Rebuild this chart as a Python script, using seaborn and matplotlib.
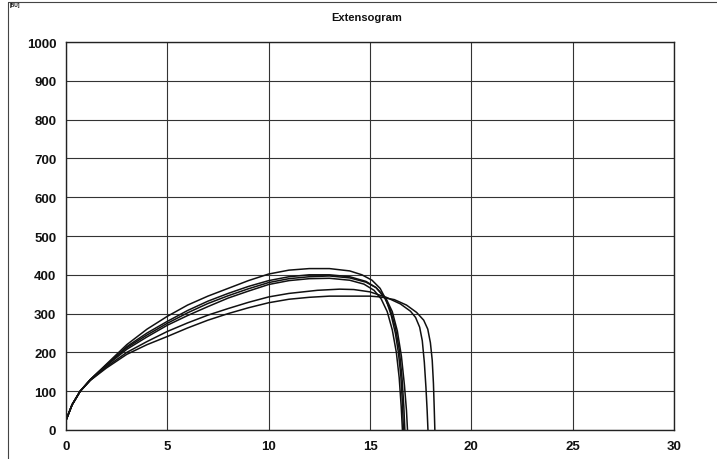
import matplotlib
matplotlib.use("Agg")
import matplotlib.pyplot as plt
import seaborn as sns
import pandas as pd
from matplotlib.lines import Line2D

title = "Extensogram"
y_unit = "[BU]"
x_ticks = [0, 5, 10, 15, 20, 25, 30]
y_ticks = [0, 100, 200, 300, 400, 500, 600, 700, 800, 900, 1000]

x_a = [0, 0.3, 0.7, 1.2, 2, 3, 4, 5, 6, 7, 8, 9, 10, 11, 12, 13, 14, 14.6, 15.1, 15.5, 15.8, 16.05, 16.25, 16.4, 16.52, 16.6, 16.65]
y_a = [25, 65, 100, 130, 170, 220, 260, 293, 322, 345, 365, 385, 402, 412, 416, 416, 410, 400, 386, 365, 335, 295, 250, 200, 140, 70, 0]

x_b = [0, 0.3, 0.7, 1.2, 2, 3, 4, 5, 6, 7, 8, 9, 10, 11, 12, 13, 14, 14.8, 15.3, 15.7, 16.0, 16.25, 16.45, 16.58, 16.67, 16.72]
y_b = [25, 65, 100, 130, 168, 215, 250, 280, 308, 332, 352, 370, 385, 395, 400, 400, 395, 383, 367, 343, 310, 265, 205, 135, 60, 0]

x_c = [0, 0.3, 0.7, 1.2, 2, 3, 4, 5, 6, 7, 8, 9, 10, 11, 12, 13, 14, 14.8, 15.3, 15.8, 16.1, 16.35, 16.55, 16.7, 16.8, 16.85]
y_c = [25, 65, 100, 130, 168, 212, 245, 275, 302, 326, 346, 364, 380, 390, 395, 397, 392, 381, 367, 338, 305, 255, 190, 115, 50, 0]

x_d = [0, 0.3, 0.7, 1.2, 2, 3, 4, 5, 6, 7, 8, 9, 10, 11, 12, 13, 14, 14.7, 15.2, 15.55, 15.85, 16.1, 16.3, 16.44, 16.54, 16.6]
y_d = [25, 65, 100, 129, 166, 208, 240, 270, 295, 318, 340, 358, 375, 385, 390, 391, 386, 376, 360, 338, 305, 258, 200, 135, 60, 0]

x_e = [0, 0.3, 0.7, 1.2, 2, 3, 4, 5, 6, 7, 8, 9, 10, 11, 12.4, 13.5, 14.2, 15, 15.8, 16.5, 17.0, 17.25, 17.45, 17.58, 17.68, 17.76, 17.82, 17.86]
y_e = [25, 65, 100, 128, 163, 200, 228, 254, 276, 296, 313, 329, 343, 352, 360, 363, 362, 356, 342, 325, 306, 290, 265, 230, 175, 110, 50, 0]

x_f = [0, 0.3, 0.7, 1.2, 2, 3, 4, 5, 6, 7, 8, 9, 10, 11, 12, 13, 14, 15, 15.5, 16.2, 16.8, 17.3, 17.65, 17.85, 17.98, 18.07, 18.13, 18.17, 18.2]
y_f = [25, 65, 100, 128, 160, 195, 220, 241, 263, 283, 300, 315, 328, 337, 342, 345, 345, 345, 343, 336, 322, 303, 283, 260, 225, 180, 120, 55, 0]

curves = {"A": (x_a, y_a), "B": (x_b, y_b), "C": (x_c, y_c),
          "D": (x_d, y_d), "E": (x_e, y_e), "F": (x_f, y_f)}

rows = []
for name, (xs, ys) in curves.items():
    for i, (xv, yv) in enumerate(zip(xs, ys)):
        rows.append({"curve": name, "order": i, "x": xv, "y": yv})
df = pd.DataFrame(rows)

sns.set_style("white")
plt.rcParams["font.family"] = ["Liberation Sans", "DejaVu Sans"]

fig = plt.figure(figsize=(7.17, 4.60), dpi=100)
ax = fig.add_axes([66 / 717, 1 - 431 / 460, (674 - 66) / 717, (431 - 43) / 460])

sns.lineplot(data=df, x="x", y="y", units="curve", estimator=None, sort=False,
             color="#111111", linewidth=1.1, ax=ax)

ax.set_xlim(0, 30)
ax.set_ylim(0, 1000)
ax.set_xticks(x_ticks)
ax.set_yticks(y_ticks)
ax.set_xticklabels([str(t) for t in x_ticks], fontweight="bold", fontsize=9.5)
ax.set_yticklabels([str(t) for t in y_ticks], fontweight="bold", fontsize=9.5)
ax.set_xlabel("")
ax.set_ylabel("")
ax.grid(True, color="#333333", linewidth=0.8)
ax.set_axisbelow(True)
for s in ax.spines.values():
    s.set_color("#222222")
    s.set_linewidth(1.0)
ax.tick_params(axis="both", direction="out", length=4, width=0.8, color="#333333",
               pad=3, labelcolor="#111111")

fig.text(367 / 717, 1 - 18 / 460, title, ha="center", va="center",
         fontsize=8, fontweight="bold", color="#111111")
fig.text(10 / 717, 1 - 6 / 460, y_unit, ha="left", va="center",
         fontsize=3.5, fontweight="bold", color="#111111")

fig.add_artist(Line2D([8 / 717, 8 / 717], [0, 1 - 3 / 460], transform=fig.transFigure,
                      color="#444444", linewidth=0.8))
fig.add_artist(Line2D([8 / 717, 1], [1 - 3 / 460, 1 - 3 / 460], transform=fig.transFigure,
                      color="#444444", linewidth=0.8))

fig.savefig("out.png", dpi=100)
